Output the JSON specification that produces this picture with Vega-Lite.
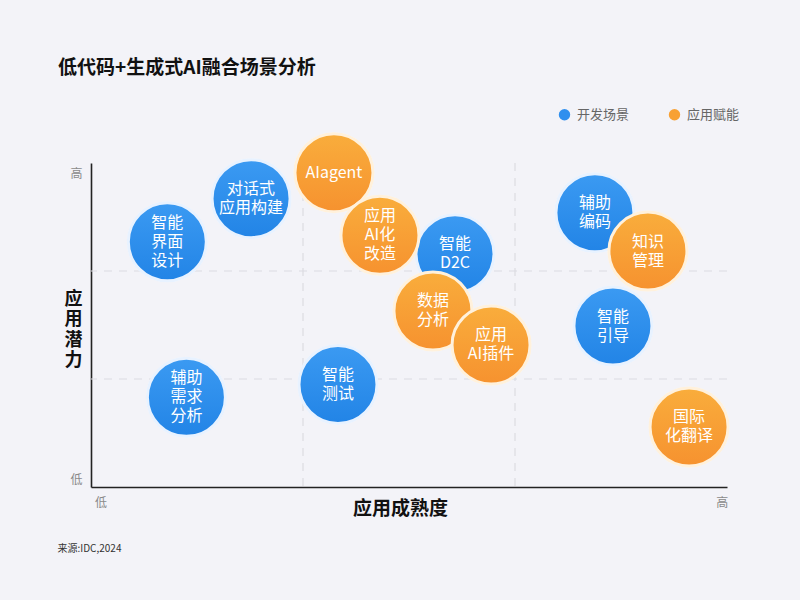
{
  "$schema": "https://vega.github.io/schema/vega-lite/v6.json",
  "autosize": "none",
  "width": 636,
  "height": 324,
  "padding": {"left": 91, "top": 163, "right": 73, "bottom": 113},
  "background": "#f3f3f8",
  "title": {
    "text": "低代码+生成式AI融合场景分析",
    "anchor": "start",
    "frame": "group",
    "dx": -33,
    "offset": 30,
    "font": "Noto Sans CJK SC",
    "fontSize": 19,
    "fontWeight": "bold",
    "color": "#111111"
  },
  "config": {
    "view": {"stroke": null},
    "font": "Noto Sans CJK SC"
  },
  "datasets": {
    "bubbles": [
      {"name": "智能\n界面\n设计", "type": "开发场景", "maturity": 0.36, "potential": 2.27},
      {"name": "对话式\n应用构建", "type": "开发场景", "maturity": 0.755, "potential": 2.67},
      {"name": "辅助\n需求\n分析", "type": "开发场景", "maturity": 0.45, "potential": 0.83},
      {"name": "智能\n测试", "type": "开发场景", "maturity": 1.165, "potential": 0.95},
      {"name": "智能\nD2C", "type": "开发场景", "maturity": 1.717, "potential": 2.16},
      {"name": "辅助\n编码", "type": "开发场景", "maturity": 2.377, "potential": 2.54},
      {"name": "智能\n引导", "type": "开发场景", "maturity": 2.462, "potential": 1.49},
      {"name": "AIagent", "type": "应用赋能", "maturity": 1.146, "potential": 2.91},
      {"name": "应用\nAI化\n改造", "type": "应用赋能", "maturity": 1.363, "potential": 2.33},
      {"name": "数据\n分析", "type": "应用赋能", "maturity": 1.613, "potential": 1.63},
      {"name": "应用\nAI插件", "type": "应用赋能", "maturity": 1.887, "potential": 1.315},
      {"name": "知识\n管理", "type": "应用赋能", "maturity": 2.627, "potential": 2.185},
      {"name": "国际\n化翻译", "type": "应用赋能", "maturity": 2.821, "potential": 0.556}
    ],
    "thirds": [{"v": 1}, {"v": 2}]
  },
  "resolve": {"axis": {"y": "independent"}},
  "layer": [
    {
      "data": {"name": "thirds"},
      "mark": {"type": "rule", "color": "#dcdce2", "strokeWidth": 1.2, "strokeDash": [8, 7]},
      "encoding": {
        "x": {"field": "v", "type": "quantitative", "scale": {"domain": [0, 3]}}
      }
    },
    {
      "data": {"name": "thirds"},
      "mark": {"type": "rule", "color": "#dcdce2", "strokeWidth": 1.2, "strokeDash": [8, 7]},
      "encoding": {
        "y": {
          "field": "v", "type": "quantitative", "scale": {"domain": [0, 3]},
          "axis": {
            "orient": "right",
            "domain": false, "ticks": false, "labels": false, "grid": false,
            "title": "来源:IDC,2024",
            "titleAngle": 0,
            "titleX": -670,
            "titleY": 385,
            "titleAlign": "left",
            "titleBaseline": "middle",
            "titleFontSize": 10,
            "titleFontWeight": "normal",
            "titleColor": "#333333",
            "titleFont": "Noto Sans CJK SC"
          }
        }
      }
    },
    {
      "data": {"name": "bubbles"},
      "mark": {"type": "circle", "opacity": 1, "size": 6084, "stroke": "#ffffff", "strokeWidth": 3, "strokeOpacity": 0.55, "clip": false},
      "encoding": {
        "x": {
          "field": "maturity", "type": "quantitative",
          "scale": {"domain": [0, 3], "nice": false, "zero": false},
          "axis": {
            "values": [0.045, 2.975],
            "labelExpr": "datum.value > 1.5 ? '高' : '低'",
            "grid": false, "ticks": false,
            "domainColor": "#222222", "domainWidth": 1.6,
            "labelFontSize": 12, "labelColor": "#8a8a8a", "labelPadding": 10,
            "labelFlush": false,
            "title": "应用成熟度",
            "titleFontSize": 19, "titleFontWeight": "bold", "titleColor": "#111111",
            "titleX": 309, "titleY": 21, "titleBaseline": "middle", "titleAlign": "center"
          }
        },
        "y": {
          "field": "potential", "type": "quantitative",
          "scale": {"domain": [0, 3], "nice": false, "zero": false},
          "axis": {
            "values": [0.07, 2.9],
            "labelExpr": "datum.value > 1.5 ? '高' : '低'",
            "grid": false, "ticks": false,
            "domainColor": "#222222", "domainWidth": 1.6,
            "labelFontSize": 12, "labelColor": "#8a8a8a", "labelPadding": 9,
            "labelFlush": false,
            "title": ["应", "用", "潜", "力"],
            "titleAngle": 0,
            "titleFontSize": 18, "titleFontWeight": "bold", "titleColor": "#111111",
            "titleLineHeight": 20.5,
            "titleX": -18, "titleY": 136, "titleBaseline": "middle", "titleAlign": "center"
          }
        },
        "color": {
          "field": "type", "type": "nominal",
          "scale": {"domain": ["开发场景", "应用赋能"], "range": ["#2f8fee", "#f8a134"]},
          "legend": {
            "title": null,
            "orient": "none",
            "direction": "horizontal",
            "legendX": 467,
            "legendY": -55,
            "symbolType": "circle",
            "symbolSize": 130,
            "symbolStrokeWidth": 0,
            "labelFontSize": 13,
            "labelColor": "#666666",
            "labelOffset": 6,
            "columnPadding": 38,
            "padding": 0
          }
        },
        "order": {"field": "type", "sort": "descending"}
      }
    },
    {
      "data": {"name": "bubbles"},
      "transform": [{"filter": "datum.type === '开发场景'"}],
      "mark": {
        "type": "circle", "size": 6084, "opacity": 1, "clip": false,
        "stroke": "#e8f2ff", "strokeWidth": 3,
        "fill": {"gradient": "linear", "x1": 0, "y1": 0, "x2": 0, "y2": 1,
          "stops": [{"offset": 0, "color": "#3b9af2"}, {"offset": 1, "color": "#2284e6"}]}
      },
      "encoding": {
        "x": {"field": "maturity", "type": "quantitative"},
        "y": {"field": "potential", "type": "quantitative", "axis": null}
      }
    },
    {
      "data": {"name": "bubbles"},
      "transform": [{"filter": "datum.type === '应用赋能'"}],
      "mark": {
        "type": "circle", "size": 6084, "opacity": 1, "clip": false,
        "stroke": "#fff1dc", "strokeWidth": 3,
        "fill": {"gradient": "linear", "x1": 0, "y1": 0, "x2": 0, "y2": 1,
          "stops": [{"offset": 0, "color": "#f9ad3c"}, {"offset": 1, "color": "#f6922f"}]}
      },
      "encoding": {
        "x": {"field": "maturity", "type": "quantitative"},
        "y": {"field": "potential", "type": "quantitative", "axis": null}
      }
    },
    {
      "data": {"name": "bubbles"},
      "transform": [{"filter": "indexof(datum.name, '\\n') < 0"}],
      "mark": {
        "type": "text", "color": "#ffffff", "fontSize": 16, "lineHeight": 19,
        "lineBreak": "\n", "align": "center", "baseline": "middle", "clip": false,
        "font": "Noto Sans CJK SC"
      },
      "encoding": {
        "x": {"field": "maturity", "type": "quantitative"},
        "y": {"field": "potential", "type": "quantitative", "axis": null},
        "text": {"field": "name"}
      }
    },
    {
      "data": {"name": "bubbles"},
      "transform": [{"filter": "length(split(datum.name, '\\n')) == 2"}],
      "mark": {
        "type": "text", "color": "#ffffff", "fontSize": 16, "lineHeight": 19, "dy": -9.5,
        "lineBreak": "\n", "align": "center", "baseline": "middle", "clip": false,
        "font": "Noto Sans CJK SC"
      },
      "encoding": {
        "x": {"field": "maturity", "type": "quantitative"},
        "y": {"field": "potential", "type": "quantitative", "axis": null},
        "text": {"field": "name"}
      }
    },
    {
      "data": {"name": "bubbles"},
      "transform": [{"filter": "length(split(datum.name, '\\n')) == 3"}],
      "mark": {
        "type": "text", "color": "#ffffff", "fontSize": 16, "lineHeight": 19, "dy": -19,
        "lineBreak": "\n", "align": "center", "baseline": "middle", "clip": false,
        "font": "Noto Sans CJK SC"
      },
      "encoding": {
        "x": {"field": "maturity", "type": "quantitative"},
        "y": {"field": "potential", "type": "quantitative", "axis": null},
        "text": {"field": "name"}
      }
    }
  ]
}
